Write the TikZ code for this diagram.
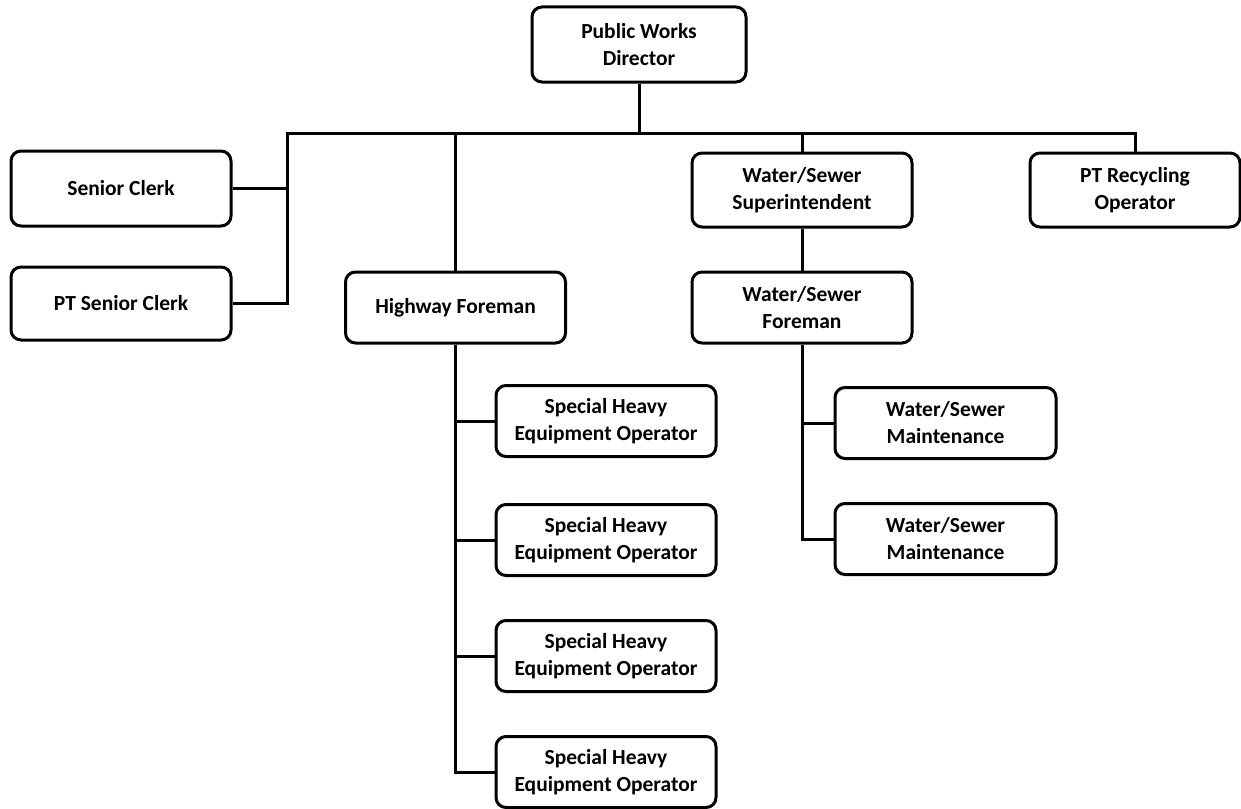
\documentclass[tikz,border=0pt]{standalone}
\usepackage{fontspec}
\setmainfont{Carlito}
\begin{document}
\begin{tikzpicture}[x=1pt,y=-1pt,
    role/.style={draw, line width=3pt, rounded corners=10pt, align=center,
        minimum width=220pt, minimum height=73pt, inner sep=0pt,
        font=\fontsize{21.5}{27}\selectfont\bfseries},
    link/.style={line width=3pt}]
    \useasboundingbox (0,0) rectangle (1241,808);
    \node[role, minimum width=214pt, minimum height=75pt] (dir) at (639,44.5) {Public Works\\Director};
    \node[role, minimum height=75pt] (sclerk) at (121,188.5) {Senior Clerk};
    \node[role] (ptclerk) at (121,303.5) {PT Senior Clerk};
    \node[role, minimum height=71pt] (hwy) at (455.5,307.5) {Highway Foreman};
    \node[role, minimum height=74pt] (wssup) at (802,190) {Water/Sewer\\Superintendent};
    \node[role, minimum height=71pt] (wsfor) at (802,307.5) {Water/Sewer\\Foreman};
    \node[role, minimum width=210pt, minimum height=74pt] (ptrec) at (1135,190) {PT Recycling\\Operator};
    \foreach \i/\y in {1/421,2/540,3/656,4/772} {
        \node[role, minimum height=71pt] (sheo\i) at (606,\y) {Special Heavy\\Equipment Operator};
    }
    \foreach \i/\y in {1/423,2/539} {
        \node[role, minimum width=221pt, minimum height=71pt] (wsm\i) at (945.5,\y) {Water/Sewer\\Maintenance};
    }
    % bus under the director
    \coordinate (barL) at (287,133);
    \coordinate (barR) at (1135,133);
    \draw[link] (dir.south) -- (dir.south |- barL);
    \draw[link, line cap=rect] (barL) -- (barR);
    \draw[link] (barL) |- (sclerk.east);
    \draw[link] (barL) |- (ptclerk.east);
    \draw[link] (hwy.north) -- (hwy.north |- barL);
    \draw[link] (wssup.north) -- (wssup.north |- barL);
    \draw[link] (ptrec.north) -- (ptrec.north |- barL);
    \draw[link] (wssup) -- (wsfor);
    \foreach \i in {1,...,4} {
        \draw[link] (hwy.south) |- (sheo\i.west);
    }
    \foreach \i in {1,2} {
        \draw[link] (wsfor.south) |- (wsm\i.west);
    }
\end{tikzpicture}
\end{document}
